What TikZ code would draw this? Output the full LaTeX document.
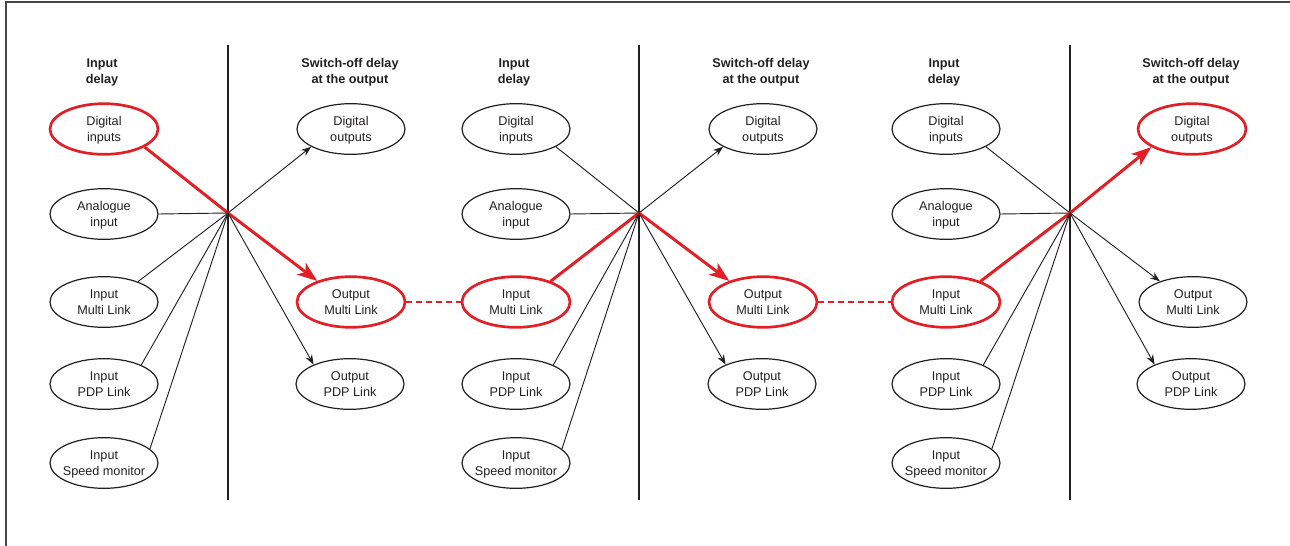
\documentclass[tikz,border=0pt]{standalone}
\usepackage{fontspec}
\setmainfont{Liberation Sans}
\usetikzlibrary{arrows.meta,shapes.geometric}
\definecolor{hred}{HTML}{E31E24}
\definecolor{ink}{HTML}{231F20}
\begin{document}
\begin{tikzpicture}[x=0.75pt,y=-0.75pt,
  ell/.style={ellipse, draw=ink, line width=0.9pt, minimum width=81pt, minimum height=38pt, inner xsep=-8pt, inner ysep=0pt, text depth=0pt, align=center, font=\fontsize{9.5}{11.5}\selectfont, text=ink},
  hell/.style={ell, draw=hred, line width=2pt},
  head/.style={align=center, font=\fontsize{9.5}{12}\selectfont\bfseries, text=ink},
  wire/.style={draw=ink, line width=0.7pt},
  warrow/.style={wire, -{Stealth[length=7.5pt,width=5.5pt]}},
  hwire/.style={draw=hred, line width=2.2pt},
  harrow/.style={hwire, -{Stealth[length=15pt,width=11pt,inset=4pt]}},
  hdash/.style={draw=hred, line width=1.8pt, dash pattern=on 4.5pt off 3pt},
  divider/.style={draw=ink, line width=1.8pt},
  frame/.style={draw=gray!55!black, line width=1pt}]
\useasboundingbox (0,0) rectangle (1290,546);
\draw[frame] (6,546) -- (6,2) -- (1290,2);

% hubs and dividers
\coordinate (h1) at (228,213);
\coordinate (h2) at (639,213);
\coordinate (h3) at (1070,213);
\coordinate (t1) at (228,45); \coordinate (b1) at (228,500);
\coordinate (t2) at (639,45); \coordinate (b2) at (639,500);
\coordinate (t3) at (1070,45); \coordinate (b3) at (1070,500);
\draw[divider] (t1) -- (b1);
\draw[divider] (t2) -- (b2);
\draw[divider] (t3) -- (b3);

% headers
\node[head] (hi1) at (102,72) {Input\\delay};
\node[head] (ho1) at (350,72) {Switch-off delay\\at the output};
\node[head] (hi2) at (514,72) {Input\\delay};
\node[head] (ho2) at (761,72) {Switch-off delay\\at the output};
\node[head] (hi3) at (944,72) {Input\\delay};
\node[head] (ho3) at (1191,72) {Switch-off delay\\at the output};

% section 1
\node[hell] (di1) at (104,129) {Digital\\inputs};
\node[ell] (ai1) at (104,214) {Analogue\\input};
\node[ell] (im1) at (104,302) {Input\\Multi Link};
\node[ell] (ip1) at (104,384) {Input\\PDP Link};
\node[ell] (is1) at (104,463) {Input\\Speed monitor};
\node[ell] (do1) at (351,129) {Digital\\outputs};
\node[hell] (om1) at (351,302) {Output\\Multi Link};
\node[ell] (op1) at (350,384) {Output\\PDP Link};

% section 2
\node[ell] (di2) at (516,129) {Digital\\inputs};
\node[ell] (ai2) at (516,214) {Analogue\\input};
\node[hell] (im2) at (516,302) {Input\\Multi Link};
\node[ell] (ip2) at (516,384) {Input\\PDP Link};
\node[ell] (is2) at (516,463) {Input\\Speed monitor};
\node[ell] (do2) at (763,129) {Digital\\outputs};
\node[hell] (om2) at (763,302) {Output\\Multi Link};
\node[ell] (op2) at (762,384) {Output\\PDP Link};

% section 3
\node[ell] (di3) at (946,129) {Digital\\inputs};
\node[ell] (ai3) at (946,214) {Analogue\\input};
\node[hell] (im3) at (946,302) {Input\\Multi Link};
\node[ell] (ip3) at (946,384) {Input\\PDP Link};
\node[ell] (is3) at (946,463) {Input\\Speed monitor};
\node[hell] (do3) at (1192,129) {Digital\\outputs};
\node[ell] (om3) at (1193,302) {Output\\Multi Link};
\node[ell] (op3) at (1191,384) {Output\\PDP Link};

% connectors section 1
\draw[hwire] (di1.-24) -- (h1);
\draw[wire] (ai1.east) -- (h1);
\draw[wire] (im1.31) -- (h1);
\draw[wire] (ip1.27) -- (h1);
\draw[wire] (is1.17) -- (h1);
\draw[warrow] (h1) -- (do1.204);
\draw[harrow] (h1) -- (om1.148);
\draw[warrow] (h1) -- (op1.152);

% connectors section 2
\draw[wire] (di2.-24) -- (h2);
\draw[wire] (ai2.east) -- (h2);
\draw[hwire] (im2.31) -- (h2);
\draw[wire] (ip2.27) -- (h2);
\draw[wire] (is2.17) -- (h2);
\draw[warrow] (h2) -- (do2.204);
\draw[harrow] (h2) -- (om2.148);
\draw[warrow] (h2) -- (op2.152);

% connectors section 3
\draw[wire] (di3.-24) -- (h3);
\draw[wire] (ai3.east) -- (h3);
\draw[hwire] (im3.31) -- (h3);
\draw[wire] (ip3.27) -- (h3);
\draw[wire] (is3.17) -- (h3);
\draw[harrow] (h3) -- (do3.204);
\draw[warrow] (h3) -- (om3.148);
\draw[warrow] (h3) -- (op3.152);

% dashed links
\draw[hdash] (om1.east) -- (im2.west);
\draw[hdash] (om2.east) -- (im3.west);
\end{tikzpicture}
\end{document}
